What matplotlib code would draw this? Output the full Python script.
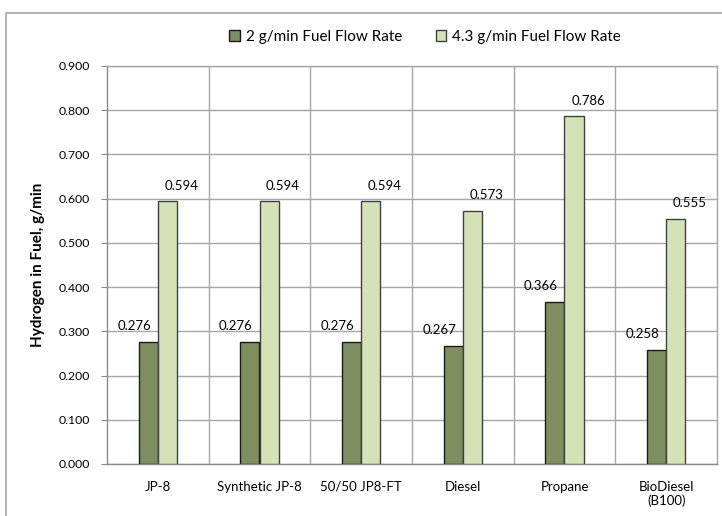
import matplotlib
matplotlib.use("Agg")
import matplotlib.pyplot as plt
import numpy as np
from matplotlib.patches import Rectangle

categories = ["JP-8", "Synthetic JP-8", "50/50 JP8-FT", "Diesel", "Propane", "BioDiesel\n(B100)"]
flow_2 = [0.276, 0.276, 0.276, 0.267, 0.366, 0.258]
flow_43 = [0.594, 0.594, 0.594, 0.573, 0.786, 0.555]
series_names = ["2 g/min Fuel Flow Rate", "4.3 g/min Fuel Flow Rate"]
yticks = [0.0, 0.1, 0.2, 0.3, 0.4, 0.5, 0.6, 0.7, 0.8, 0.9]

plt.rcParams['font.family'] = ['Lato', 'DejaVu Sans']

fig = plt.figure(figsize=(7.22, 5.16), dpi=100)
ax = fig.add_axes([107/722, 52/516, 610/722, 398/516])

x = np.arange(len(categories))
w = 0.19
dark = "#7e8e5e"
light = "#d5e2b6"
b1 = ax.bar(x - w/2, flow_2, w, color=dark, edgecolor="#1a1a1a", linewidth=1.0, label=series_names[0], zorder=3)
b2 = ax.bar(x + w/2, flow_43, w, color=light, edgecolor="#404040", linewidth=1.0, label=series_names[1], zorder=3)

for xi, v in zip(x, flow_2):
    ax.annotate(f"{v:.3f}", (xi - w/2, v), xytext=(-10, 7), textcoords="offset points",
                ha="center", va="bottom", fontsize=9.5, color="#000000")
for xi, v in zip(x, flow_43):
    ax.annotate(f"{v:.3f}", (xi + w/2, v), xytext=(10, 7), textcoords="offset points",
                ha="center", va="bottom", fontsize=9.5, color="#000000")

ax.set_xlim(-0.5, len(categories) - 0.5)
ax.set_ylim(0, 0.9)
ax.set_yticks(yticks)
ax.set_yticklabels([f"{t:.3f}" for t in yticks], fontsize=8.8)
ax.set_xticks(x)
ax.set_xticklabels(categories, fontsize=9.5)
ax.tick_params(axis="x", length=0, pad=12)
ax.tick_params(axis="y", length=4, color="#888888", pad=8)
ax.set_ylabel("Hydrogen in Fuel, g/min", fontsize=11, fontweight="bold", labelpad=10)

ax.yaxis.grid(True, color="#a6a6a6", linewidth=1.0, zorder=0)
for b in np.arange(0.5, len(categories) - 0.5, 1.0):
    ax.axvline(b, color="#a6a6a6", linewidth=1.0, zorder=0)
for s in ax.spines.values():
    s.set_color("#a6a6a6")
    s.set_linewidth(1.0)
ax.spines["left"].set_color("#888888")
ax.spines["bottom"].set_color("#888888")

fig.legend(handles=[b1, b2], loc="center", bbox_to_anchor=(425/722, 1 - 37/516), ncol=2,
           frameon=False, fontsize=11, handlelength=0.7, handleheight=0.7,
           columnspacing=2.2, handletextpad=0.4)

fig.patches.append(Rectangle((6/722, -0.1), 1.2, 1 - 13/516 + 0.1, transform=fig.transFigure,
                             fill=False, edgecolor="#a6a6a6", linewidth=1.2))

fig.savefig("out.png", dpi=100)
